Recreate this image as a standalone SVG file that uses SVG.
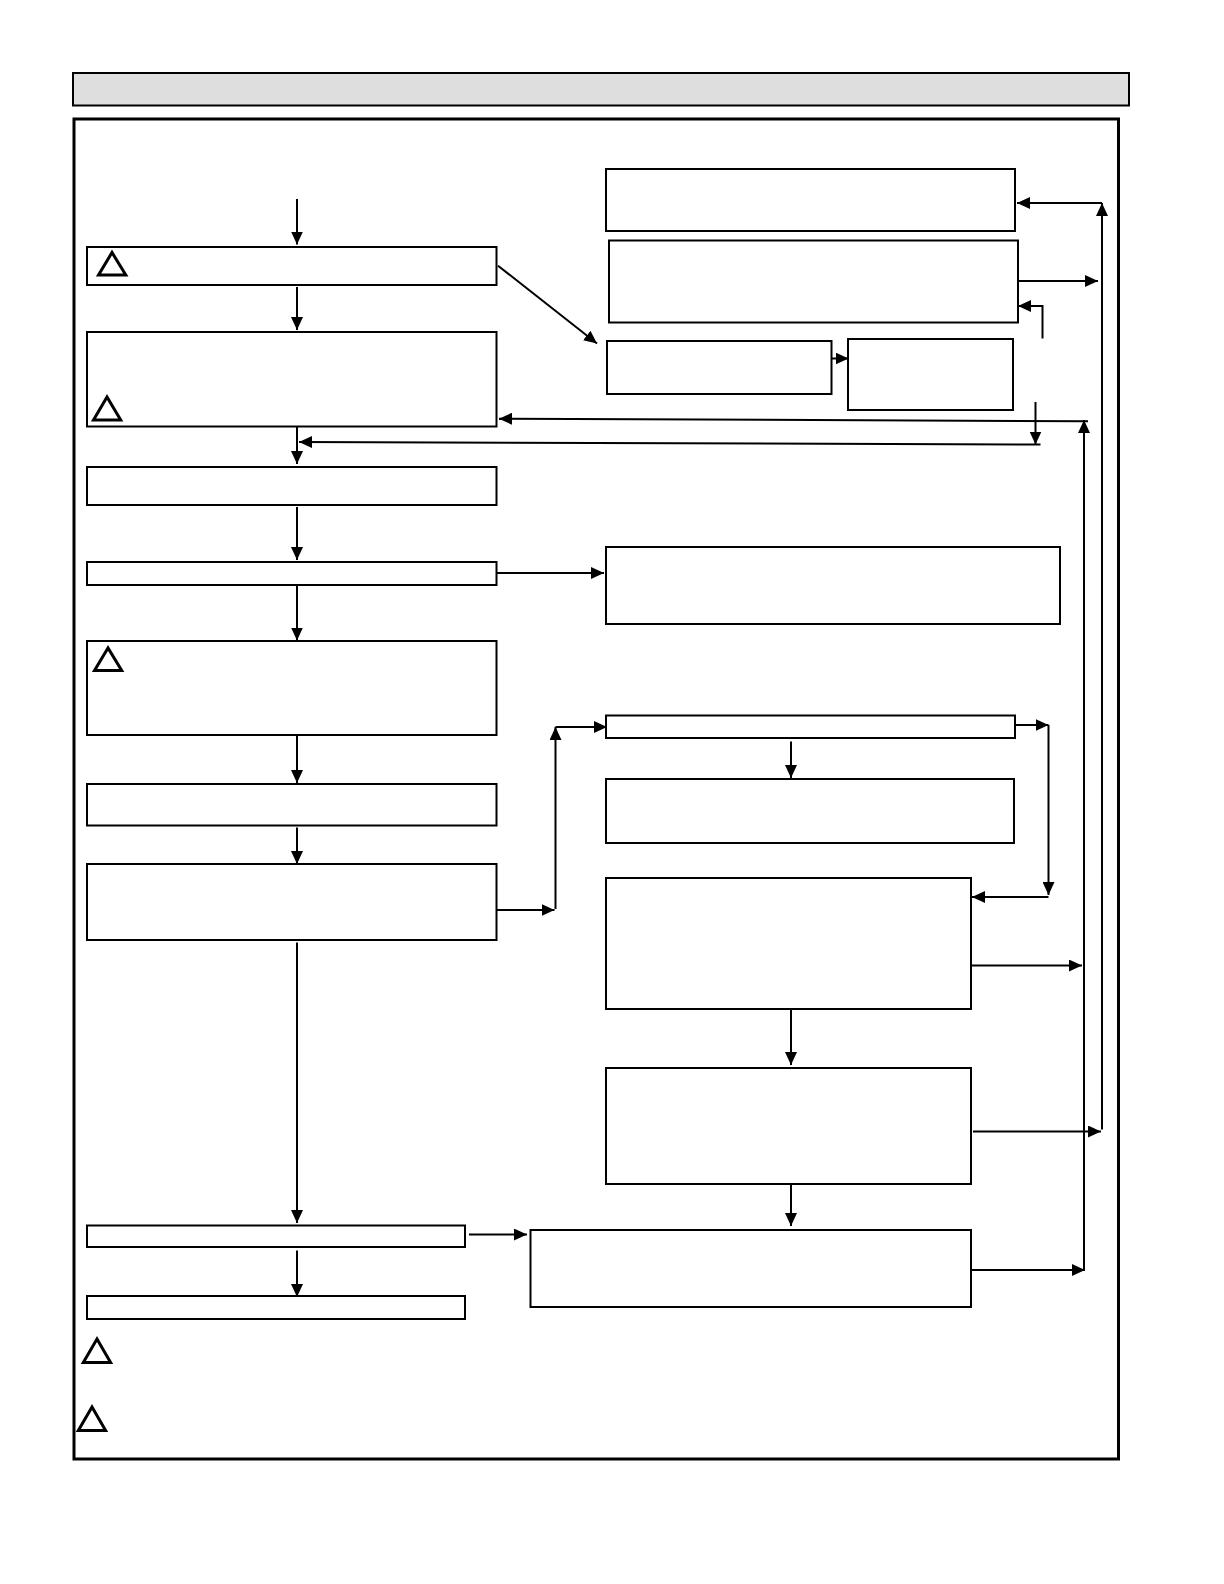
<svg xmlns="http://www.w3.org/2000/svg" width="1224" height="1584" viewBox="0 0 1224 1584">
<style>
.n{fill:#fff;stroke:#000;stroke-width:2}
.t{fill:none;stroke:#000;stroke-width:3}
#connectors path{fill:none;stroke:#000;stroke-width:2}
.a{marker-end:url(#h)}
</style>
<defs><marker id="h" markerUnits="userSpaceOnUse" markerWidth="14" markerHeight="12" refX="13" refY="6" orient="auto"><path d="M0 0L13 6L0 12Z" fill="#000"/></marker></defs>
<rect width="1224" height="1584" fill="#fff"/>
<rect id="header" x="73" y="73" width="1056" height="32.500" fill="#dedede" stroke="#000" stroke-width="2"/>
<rect id="frame" x="74" y="119" width="1044.500" height="1340" fill="#fff" stroke="#000" stroke-width="3"/>
<g id="b1"><rect class="n" x="87" y="247" width="409.500" height="38"/><path class="t" d="M112 252.500L98.500 275H125.800Z"/></g>
<g id="b2"><rect class="n" x="87" y="332" width="409.500" height="94.500"/><path class="t" d="M107 397L93.500 420H120.700Z"/></g>
<g id="b3"><rect class="n" x="87" y="467" width="409.500" height="38"/></g>
<g id="b4"><rect class="n" x="87" y="562" width="409.500" height="23"/></g>
<g id="b5"><rect class="n" x="87" y="641" width="409.500" height="94"/><path class="t" d="M108 648L94.500 670.500H121.700Z"/></g>
<g id="b6"><rect class="n" x="87" y="784" width="409.500" height="41.500"/></g>
<g id="b7"><rect class="n" x="87" y="864" width="409.500" height="76"/></g>
<g id="b8"><rect class="n" x="87" y="1225.500" width="378" height="21.500"/></g>
<g id="b9"><rect class="n" x="87" y="1296" width="378" height="23"/></g>
<g id="r1"><rect class="n" x="606" y="169" width="409" height="62"/></g>
<g id="r2"><rect class="n" x="609" y="240.500" width="409" height="82"/></g>
<g id="r3"><rect class="n" x="607" y="341" width="224.500" height="53"/></g>
<g id="r4"><rect class="n" x="848" y="339" width="165" height="71"/></g>
<g id="r5"><rect class="n" x="606" y="547" width="454" height="77"/></g>
<g id="r6"><rect class="n" x="606" y="715.500" width="409" height="22.500"/></g>
<g id="r7"><rect class="n" x="606" y="779" width="408" height="64"/></g>
<g id="r8"><rect class="n" x="606" y="878" width="365" height="131"/></g>
<g id="r9"><rect class="n" x="606" y="1068" width="365" height="116"/></g>
<g id="r10"><rect class="n" x="530.500" y="1230" width="440.500" height="77"/></g>
<g id="legend1"><path class="t" d="M97 1339L83.300 1362.500H110.600Z"/></g>
<g id="legend2"><path class="t" d="M92 1407L78.300 1430.500H105.600Z"/></g>
<g id="connectors">
<path class="a" d="M297 199V244.500"/>
<path class="a" d="M297 287V330"/>
<path class="a" d="M297 426V464"/>
<path class="a" d="M297 507V560"/>
<path class="a" d="M297 586V640.500"/>
<path class="a" d="M297 735V783"/>
<path class="a" d="M297 827.500V864"/>
<path class="a" d="M297 942.500V1223"/>
<path class="a" d="M297 1250.500V1297"/>
<path class="a" d="M498 265.700L597 343.500"/>
<path class="a" d="M1088 421.300L499 418.700"/>
<path class="a" d="M1040.500 444.500L299 442"/>
<path class="a" d="M1035.500 402V444.500"/>
<path class="a" d="M1084 1270V420"/>
<path class="a" d="M1102 1129.500V203"/>
<path class="a" d="M1102 203H1017"/>
<path class="a" d="M1017 281H1098"/>
<path class="a" d="M1042.500 338.500V306H1018"/>
<path class="a" d="M831.500 358.500H848.500"/>
<path class="a" d="M497 573H604"/>
<path class="a" d="M497 910H554.500"/>
<path class="a" d="M555.500 909V727"/>
<path class="a" d="M555.500 727H607"/>
<path class="a" d="M1015 725H1048.500"/>
<path class="a" d="M1048.500 725V895"/>
<path class="a" d="M1048.500 897H972"/>
<path class="a" d="M791 741.500V778"/>
<path class="a" d="M970 965.500H1082"/>
<path class="a" d="M791 1009V1065"/>
<path class="a" d="M973 1131.500H1101"/>
<path class="a" d="M791 1184V1226"/>
<path class="a" d="M469 1234.500H527"/>
<path class="a" d="M971 1270H1085"/>
</g>
</svg>
